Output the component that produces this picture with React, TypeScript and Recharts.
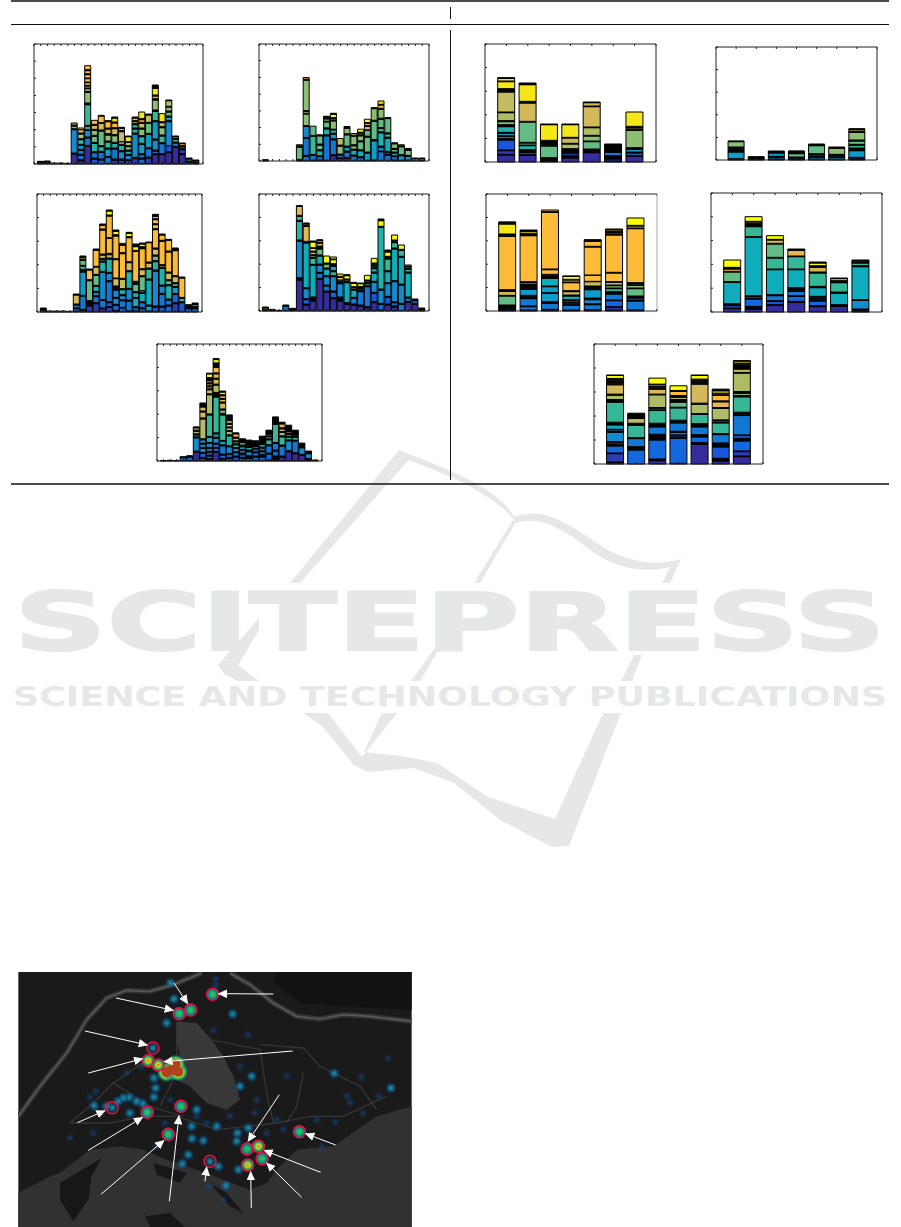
import { Bar, BarChart, Cell, Scatter, ScatterChart, XAxis, YAxis } from 'recharts';

type Seg = [number, number]; // [topic level, amount]
type Stack = Seg[];

// topic levels run along the colour map, K lumps the thin topics that print as black
const K = 20;
const parula = [
  '#352c9e', '#2f3db5', '#1a56da', '#1268dc', '#1278d4', '#128bd0', '#0e9cc9', '#0fadbb', '#1fb3ab', '#38b797',
  '#64bc85', '#8cbe74', '#aebc65', '#c3bb5f', '#d4b95a', '#e6b750', '#fdbb3a', '#f7d81f', '#f5e617', '#fbff00', '#000000',
];

const weekdayA: Stack[] = [
  [[0,5],[K,3]], [[0,6],[K,3]], [[17,3]], [[17,3]], [[17,2]],
  [[0,30],[K,3],[5,70],[K,3],[10,8],[K,3],[13,6]],
  [[0,10],[K,3],[4,13],[K,3],[4,12],[K,3],[6,12],[K,3],[9,14],[K,3],[12,14],[K,3],[15,10],[17,5]],
  [[0,53],[K,3],[4,22],[K,3],[5,20],[K,2],[8,10],[K,3],[9,62],[K,5],[11,32],[K,3],[12,8],[K,2],[13,6],[K,2],[15,8],[K,2],[16,10],[K,2],[16,10],[K,3],[16,9],[K,3],[16,12]],
  [[2,15],[K,3],[4,16],[K,3],[8,25],[K,3],[10,18],[K,3],[11,15],[K,3],[14,12],[K,3],[16,12]],
  [[3,12],[K,3],[4,20],[K,3],[8,14],[K,3],[10,44],[K,3],[14,20],[K,2],[16,20],[17,2]],
  [[4,20],[K,3],[6,22],[K,3],[9,18],[K,3],[11,18],[K,4],[13,14],[K,3],[16,19],[K,3]],
  [[1,12],[K,3],[4,30],[K,3],[8,14],[K,3],[11,20],[K,3],[14,18],[K,3],[16,14],[K,3],[17,12],[K,3]],
  [[1,12],[K,3],[5,22],[K,3],[8,16],[K,3],[11,8],[13,30],[K,3],[14,7],[K,3]],
  [[2,10],[K,3],[5,13],[K,3],[8,10],[K,3],[11,10],[K,3],[13,10],[K,2],[18,15],[K,2]],
  [[1,16],[K,4],[5,70],[K,3],[8,12],[K,3],[9,10],[K,3],[14,6],[K,3],[16,8],[K,3]],
  [[3,15],[K,3],[4,10],[K,3],[6,28],[K,3],[8,20],[K,3],[11,20],[K,3],[13,14],[K,3],[16,8],[K,3],[18,20]],
  [[1,18],[K,3],[4,25],[K,3],[6,40],[K,3],[10,30],[K,3],[13,22],[K,3]],
  [[0,28],[K,3],[4,8],[K,3],[5,30],[K,3],[6,52],[K,3],[9,28],[K,4],[11,30],[K,4],[16,8],[K,3],[18,20],[K,10]],
  [[0,28],[K,3],[4,30],[K,3],[9,20],[K,3],[11,22],[K,3],[13,12],[K,3],[18,24]],
  [[0,34],[K,3],[2,18],[5,72],[K,4],[8,10],[K,3],[10,12],[K,3],[11,12],[K,2],[12,17],[K,2]],
  [[0,50],[K,3],[4,10],[K,3],[8,8],[K,3],[9,5],[K,2]],
  [[0,28],[K,3],[1,12],[K,3],[3,6],[K,3],[16,6],[K,2]],
  [[3,6],[K,3],[9,6],[K,3]],
  [[3,4],[K,2],[9,4],[K,2]],
];

const weekdayB: Stack[] = [
  [[K,2],[17,2]], [], [], [], [],
  [[K,5],[10,37],[K,4],[17,3]],
  [[4,14],[K,3],[4,52],[K,2],[5,33],[K,3],[11,35],[K,2],[11,6],[K,2],[11,92],[K,3],[16,5]],
  [[K,2],[4,16],[K,2],[9,55],[K,2],[10,28]],
  [[K,3],[4,10],[K,3],[8,15],[K,3],[10,14],[K,3],[10,25],[K,3]],
  [[K,2],[4,74],[K,3],[8,18],[K,3],[10,18],[K,2],[11,7],[K,2],[16,3],[K,3]],
  [[0,16],[K,3],[4,45],[K,3],[6,14],[K,3],[9,10],[K,2],[11,25],[K,3],[16,4],[K,3],[19,10],[K,3]],
  [[0,8],[K,2],[4,8],[K,3],[11,24],[K,3],[13,20]],
  [[0,8],[K,3],[4,16],[K,3],[6,12],[K,3],[10,34],[K,3],[11,17],[K,2],[16,3]],
  [[4,15],[K,3],[7,15],[K,3],[11,10],[K,3],[11,26],[K,3],[18,5]],
  [[4,10],[K,3],[7,18],[K,3],[10,24],[K,3],[11,15],[K,3],[13,5],[K,3],[19,9]],
  [[K,2],[6,22],[K,3],[10,45],[K,3],[10,17],[K,2],[14,10],[K,3],[16,6],[K,3],[19,10]],
  [[K,3],[6,58],[K,4],[10,55],[K,3],[11,35],[K,3]],
  [[4,28],[K,2],[5,12],[K,3],[8,40],[K,3],[9,10],[K,3],[10,25],[K,3],[11,27],[K,3],[16,10],[K,2],[17,10]],
  [[4,18],[K,3],[6,5],[K,3],[7,40],[K,3],[9,10],[K,3],[10,43],[K,3]],
  [[K,3],[4,10],[K,3],[7,8],[K,3],[10,8],[K,3],[11,14],[K,3]],
  [[K,2],[6,14],[K,3],[10,24],[K,3],[17,3]],
  [[K,3],[6,11],[K,3],[11,15],[K,3],[16,3]],
  [[10,7],[K,2]],
  [[K,2],[10,5],[K,2]],
];

const weekdayC: Stack[] = [
  [[2,6],[K,6]], [[17,3]], [[17,3]], [[17,3]], [[17,2]],
  [[K,2],[3,8],[K,3],[5,8],[K,3],[14,27],[K,3]],
  [[3,5],[K,3],[4,40],[K,2],[6,70],[K,8],[9,10],[K,2],[10,15],[K,3],[14,5],[K,5]],
  [[1,18],[K,16],[10,60],[K,3],[16,29],[K,3]],
  [[1,25],[K,3],[4,18],[K,3],[5,10],[K,3],[8,15],[K,3],[10,30],[K,3],[14,22],[K,2],[16,48],[K,4]],
  [[0,10],[K,2],[4,23],[K,2],[5,82],[K,3],[8,28],[K,3],[9,5],[K,3],[14,10],[K,3],[16,72],[K,3],[16,11],[K,4]],
  [[1,14],[K,2],[2,12],[K,3],[4,60],[K,3],[5,22],[K,3],[8,40],[K,3],[13,10],[K,4],[16,45],[K,2],[16,65],[K,3],[19,12],[K,3]],
  [[K,5],[3,15],[K,3],[5,18],[K,3],[5,22],[K,12],[14,22],[K,2],[16,55],[K,3],[16,68],[K,4],[19,10],[K,4]],
  [[3,12],[K,2],[4,20],[K,3],[5,12],[K,4],[8,14],[K,3],[13,28],[K,3],[16,74],[K,3],[16,22],[K,3],[16,3]],
  [[K,3],[4,30],[K,3],[5,32],[K,3],[8,50],[K,3],[14,24],[K,3],[16,72],[K,3],[19,10],[K,3]],
  [[K,3],[3,10],[K,3],[7,25],[K,3],[8,14],[K,3],[10,22],[K,3],[14,3],[K,3],[16,90],[K,3],[19,11],[K,8]],
  [[2,10],[K,3],[4,15],[K,3],[7,25],[K,3],[9,5],[10,42],[K,3],[14,18],[K,3],[16,60],[K,6],[19,8],[K,3]],
  [[K,3],[6,15],[K,3],[7,75],[K,3],[9,30],[K,3],[14,15],[K,3],[16,58],[K,2]],
  [[2,15],[K,3],[5,105],[K,3],[8,25],[K,3],[10,14],[K,3],[14,18],[K,3],[16,55],[K,3],[16,12],[K,3],[16,12],[K,3],[16,7],[K,6]],
  [[2,15],[K,3],[4,35],[K,3],[5,22],[K,3],[8,50],[K,3],[13,5],[K,3],[16,70],[K,3],[16,16],[K,3]],
  [[3,18],[K,3],[4,15],[K,3],[8,40],[K,3],[10,12],[K,3],[14,20],[K,3],[16,60],[K,3],[16,32],[K,3]],
  [[1,25],[K,3],[3,25],[K,3],[6,18],[K,3],[10,8],[K,3],[14,18],[K,3],[16,75],[K,8]],
  [[2,28],[K,3],[8,10],[K,3],[16,58],[K,3]],
  [[3,10],[K,10],[17,2]],
  [[3,10],[K,6],[10,6],[K,5]],
];

const weekdayD: Stack[] = [
  [[K,4],[19,5],[K,3]], [[K,3],[13,2]], [[17,2]], [[3,15],[K,3]], [[K,6],[17,2]],
  [[0,93],[K,7],[5,110],[K,3],[8,56],[K,3],[9,12],[K,3],[15,27],[K,2]],
  [[0,18],[K,3],[3,13],[K,3],[5,30],[K,3],[7,134],[K,5],[15,45],[K,3],[16,4],[K,3]],
  [[0,30],[K,2],[1,3],[K,2],[2,3],[K,2],[7,95],[K,3],[9,18],[K,3],[11,5],[K,3],[15,8],[K,3],[19,8],[K,2],[19,17],[K,3]],
  [[0,95],[K,3],[4,15],[K,3],[5,22],[K,3],[7,24],[K,3],[10,18],[K,3],[K,6],[16,8],[K,3],[19,5],[K,3]],
  [[0,57],[K,3],[4,15],[K,3],[5,25],[K,3],[7,20],[K,3],[10,12],[K,3],[19,21]],
  [[0,37],[K,3],[3,17],[K,3],[5,43],[K,3],[9,12],[K,3],[7,13],[K,8],[19,12],[K,2],[19,6]],
  [[0,30],[K,12],[5,40],[K,3],[K,3],[7,5],[16,8],[K,3],[19,7]],
  [[K,2],[0,18],[K,5],[7,60],[K,3],[12,5],[K,3],[19,10],[K,3]],
  [[0,18],[K,3],[4,17],[K,3],[7,22],[K,3],[15,4],[K,3],[19,10],[K,3]],
  [[0,15],[K,3],[4,40],[K,3],[9,5],[K,3],[15,2],[K,3],[19,8],[K,2]],
  [[0,10],[K,3],[4,60],[K,3],[7,6],[K,3],[9,5],[K,3],[19,14]],
  [[0,25],[K,3],[2,25],[K,3],[5,30],[K,3],[7,25],[K,3],[8,10],[K,3],[9,5],[K,3],[16,3],[K,3],[19,14]],
  [[K,3],[3,17],[K,3],[5,40],[K,3],[8,185],[K,3],[19,17],[K,5]],
  [[0,18],[K,3],[2,20],[K,3],[5,38],[K,3],[7,33],[K,3],[9,35],[K,8],[19,13],[K,6]],
  [[0,12],[K,3],[3,10],[K,3],[5,60],[K,3],[7,95],[K,3],[9,16],[K,3],[15,3],[K,2],[19,15]],
  [[4,20],[K,3],[5,55],[K,3],[7,80],[K,3],[9,18],[K,3],[19,13]],
  [[0,26],[K,3],[4,10],[K,3],[7,72],[K,3],[9,8],[K,3],[16,4],[K,3],[17,3]],
  [[0,20],[K,3],[4,8],[K,5]],
  [[K,7],[17,2]],
];

const weekdayE: Stack[] = [
  [[K,1]], [[17,2]], [[K,1]],
  [[3,10],[K,3]],
  [[3,12],[K,4]],
  [[0,27],[K,3],[5,40],[K,3],[8,6],[K,3],[12,8],[K,3],[14,7],[K,3]],
  [[1,8],[K,3],[3,12],[K,3],[5,12],[K,3],[5,10],[K,3],[6,10],[K,3],[12,60],[K,3],[14,18],[K,3],[15,12],[K,3],[K,9]],
  [[1,4],[K,3],[3,8],[K,3],[3,8],[K,3],[4,9],[K,3],[5,12],[K,3],[7,15],[K,3],[9,65],[K,3],[12,58],[K,3],[14,12],[K,3],[15,6],[K,3],[15,6],[K,3],[16,6],[K,10],[19,11],[K,2]],
  [[0,26],[K,3],[3,10],[K,2],[4,10],[K,3],[5,15],[K,3],[7,10],[K,3],[9,108],[K,14],[12,22],[K,3],[14,15],[K,3],[15,13],[K,3],[16,16],[K,14],[19,10],[K,3]],
  [[1,5],[K,3],[3,10],[K,3],[4,25],[K,3],[7,10],[K,3],[9,77],[K,5],[11,10],[K,3],[14,18],[K,3],[16,8],[K,3],[16,8],[K,3],[19,8],[K,3]],
  [[1,8],[K,2],[2,10],[K,3],[5,20],[K,3],[8,30],[K,3],[11,10],[K,3],[14,8],[K,3],[15,8],[K,3],[14,8],[K,3],[K,14]],
  [[2,12],[K,3],[4,10],[K,3],[5,10],[K,3],[9,8],[K,3],[11,6],[K,3],[14,8],[K,3],[16,10],[K,3]],
  [[2,8],[K,3],[3,8],[K,5],[4,8],[K,3],[6,8],[K,5],[8,8],[K,11]],
  [[3,8],[K,8],[5,12],[K,5],[8,8],[K,6],[12,3],[K,13]],
  [[3,12],[K,3],[4,10],[K,3],[4,8],[K,3],[10,5],[K,17]],
  [[3,12],[K,8],[5,8],[K,3],[5,8],[K,3],[8,8],[K,25]],
  [[K,3],[3,18],[K,3],[4,22],[K,3],[9,15],[K,3],[13,6],[K,3],[17,5],[K,12]],
  [[K,15],[3,15],[K,3],[4,20],[K,3],[9,55],[K,4],[K,18]],
  [[0,12],[K,3],[4,30],[K,3],[9,25],[K,3],[12,10],[K,3],[13,8],[K,3],[14,12],[K,5]],
  [[0,28],[K,3],[5,30],[K,3],[9,8],[K,3],[10,5],[K,3],[14,5],[K,20]],
  [[0,22],[K,3],[4,35],[K,3],[9,8],[K,3],[9,4],[K,15]],
  [[0,17],[K,3],[5,20],[K,14]],
  [[K,8],[5,14],[K,8]],
  [[17,3]],
];

const dayF: Stack[] = [
  [[0,21],[K,2],[1,11],[K,2],[2,30],[K,5],[6,6],[K,2],[6,7],[K,3],[8,17],[K,6],[11,9],[K,3],[12,24],[K,2],[13,60],[K,10],[18,21],[K,2],[18,8],[K,2]],
  [[0,20],[K,2],[1,7],[K,8],[8,12],[K,2],[10,6],[K,2],[10,61],[K,2],[14,55],[K,5],[18,50],[K,5]],
  [[K,8],[5,3],[K,2],[10,35],[K,2],[14,3],[K,12],[18,47],[K,2]],
  [[0,12],[K,2],[2,3],[K,2],[3,6],[K,4],[8,3],[K,8],[12,14],[K,2],[13,16],[K,2],[18,38],[K,2]],
  [[0,28],[K,11],[10,22],[K,2],[11,15],[K,2],[12,23],[K,2],[14,61],[K,2],[14,10],[K,2]],
  [[K,3],[1,6],[K,10],[4,10],[K,25]],
  [[0,17],[K,3],[4,7],[K,3],[6,8],[K,5],[11,52],[K,2],[14,5],[K,5],[18,43]],
];

const dayG: Stack[] = [
  [[K,4],[6,20],[K,9],[10,3],[K,3],[11,16],[K,1],[17,1]],
  [[K,10]],
  [[K,3],[6,5],[K,3],[6,10],[K,6]],
  [[K,3],[6,3],[K,3],[10,10],[K,7],[17,1]],
  [[K,2],[6,5],[K,3],[6,5],[K,4],[10,24],[K,5]],
  [[K,2],[6,5],[K,3],[10,4],[K,3],[11,18],[K,4]],
  [[K,3],[3,3],[K,2],[6,20],[K,8],[9,8],[K,3],[10,10],[K,3],[11,23],[K,3],[13,5],[K,3]],
];

const dayH: Stack[] = [
  [[K,6],[6,3],[K,9],[10,27],[K,2],[14,12],[K,5],[16,160],[K,2],[16,3],[K,2],[18,30],[K,2],[16,3],[K,1]],
  [[K,3],[4,10],[K,2],[4,22],[K,6],[6,3],[K,1],[6,18],[K,5],[7,3],[K,8],[14,5],[K,2],[16,138],[K,6],[18,6],[K,5]],
  [[K,5],[4,18],[K,5],[6,25],[K,2],[6,18],[K,2],[7,23],[K,7],[12,3],[K,2],[16,14],[K,2],[16,170],[K,2],[16,5]],
  [[K,3],[4,14],[K,2],[4,5],[K,3],[5,5],[K,2],[7,11],[K,3],[14,10],[K,3],[16,24],[K,2],[16,6],[K,2],[19,9],[K,1]],
  [[K,4],[4,15],[K,3],[5,12],[K,5],[6,25],[K,11],[13,13],[K,1],[16,18],[K,1],[16,84],[K,2],[16,15],[K,5]],
  [[K,3],[1,8],[K,2],[3,18],[K,2],[4,18],[K,7],[9,9],[K,2],[11,7],[K,2],[14,8],[K,2],[16,26],[K,2],[16,112],[K,2],[16,4],[K,6],[17,4],[K,2]],
  [[K,3],[4,27],[K,3],[4,6],[K,6],[10,22],[K,2],[11,8],[K,2],[14,4],[K,2],[16,162],[K,2],[16,6],[K,2],[19,22]],
];

const dayI: Stack[] = [
  [[0,10],[K,2],[2,7],[K,6],[7,64],[K,2],[10,29],[K,2],[16,7],[K,5],[19,22]],
  [[0,8],[K,2],[1,4],[K,3],[3,22],[K,2],[4,5],[K,3],[7,175],[K,2],[9,30],[K,10],[15,4],[K,2],[19,14]],
  [[0,20],[K,2],[2,10],[K,2],[4,15],[K,3],[7,75],[K,2],[9,33],[K,2],[10,40],[K,2],[14,10],[K,2],[19,11]],
  [[0,29],[K,3],[3,15],[K,2],[4,13],[K,2],[4,2],[K,2],[5,3],[K,2],[7,54],[K,2],[9,37],[K,2],[15,17],[K,4]],
  [[0,16],[K,3],[3,14],[K,2],[4,4],[K,2],[4,4],[K,2],[7,26],[K,4],[9,40],[K,3],[14,14],[K,5],[19,8],[K,3]],
  [[0,17],[K,5],[7,34],[K,4],[9,28],[K,6],[19,6],[K,2]],
  [[K,9],[5,26],[K,2],[7,99],[K,3],[9,8],[K,3],[16,3],[K,3]],
];

const dayJ: Stack[] = [
  [[0,4],[K,2],[1,25],[K,2],[3,21],[K,6],[4,5],[K,2],[5,28],[K,2],[5,5],[K,2],[7,13],[K,8],[9,60],[K,8],[12,13],[K,3],[14,28],[K,2],[15,3],[K,2],[15,3],[K,2],[15,3],[K,4],[19,9],[K,1]],
  [[3,42],[K,10],[4,24],[K,3],[9,37],[K,6],[13,14],[K,16]],
  [[0,10],[K,5],[3,57],[K,7],[3,3],[K,7],[4,22],[K,11],[9,38],[K,2],[9,5],[K,2],[12,38],[K,2],[14,15],[K,2],[15,4],[K,2],[15,5],[K,2],[19,18]],
  [[K,2],[3,75],[K,2],[3,5],[K,3],[4,8],[K,3],[4,25],[K,8],[9,37],[K,2],[10,15],[K,8],[13,6],[K,6],[16,12],[K,3],[19,14]],
  [[0,59],[K,5],[3,17],[K,7],[4,23],[K,10],[9,28],[K,2],[12,28],[K,3],[14,57],[K,3],[15,3],[K,3],[15,3],[K,3],[19,11],[K,1]],
  [[0,9],[K,8],[2,34],[K,2],[3,3],[K,2],[3,3],[K,2],[4,25],[K,3],[9,32],[K,3],[10,4],[K,2],[12,34],[K,3],[15,17],[K,3],[16,16],[K,2],[16,3],[K,2],[18,7],[K,5]],
  [[0,22],[K,2],[1,13],[K,2],[3,30],[K,8],[3,8],[K,2],[4,58],[K,4],[8,3],[K,3],[9,46],[K,4],[11,6],[K,6],[12,55],[K,2],[13,10],[K,13],[15,3],[K,2],[19,6],[K,1]],
];

// map spots, in the map's own coordinates
const hotSpots = [[415,303],[445,316],[745,560],[713,616]];
const blobSpots = [[470,338],[482,332],[495,331],[505,336],[497,314]];
const greenSpots = [[608,104],[542,151],[508,162],[412,458],[513,440],[475,524],[711,568],[756,597],[868,516]];
const tealSpots = [
  [429,265],[307,444],[600,605],[482,70],[492,118],[470,190],[668,163],[432,355],[437,385],[432,412],[398,432],[380,425],
  [358,413],[340,415],[325,425],[290,440],[253,438],[360,460],[546,537],[580,543],[620,500],[682,520],[680,545],[715,505],
  [560,450],[535,585],[517,612],[648,678],[685,630],[972,341],[1142,385],[690,380],[725,350],[545,500],[625,620],
];
const blueSpots = [
  [617,58],[617,78],[610,213],[715,225],[520,120],[350,338],[395,320],[258,395],[240,412],[740,420],[735,460],[800,480],
  [830,350],[690,320],[1133,295],[1053,352],[1010,410],[1020,430],[1058,460],[975,487],[1105,410],[920,480],[935,560],
  [180,535],[250,520],[600,680],[640,720],[590,490],[560,470],[480,420],[465,490],[440,560],[770,520],[820,510],[660,470],
];
const ringSpots = [
  [608,104],[542,151],[508,162],[429,265],[415,303],[445,316],[307,444],[412,458],[513,440],[475,524],[600,605],[711,568],
  [745,560],[756,597],[713,616],[868,516],
];
const arrows = [
  [492,70,533,132],[790,103,625,102],[318,115,490,152],[225,214,412,256],[235,340,398,297],[848,274,462,306],
  [202,489,285,453],[235,572,398,473],[273,704,462,542],[478,725,507,468],[585,665,590,622],[808,405,714,545],
  [977,556,887,522],[932,638,762,572],[875,713,770,610],[724,745,722,636],
];

const panels = [
  { stacks: weekdayA, left: 34, top: 44, width: 169, height: 120, yMax: 360, yDivs: 7, slots: 25, barSize: 6 },
  { stacks: weekdayB, left: 259, top: 44, width: 170, height: 117, yMax: 353, yDivs: 7, slots: 25, barSize: 6 },
  { stacks: weekdayC, left: 37, top: 194, width: 165, height: 118, yMax: 354, yDivs: 5, slots: 25, barSize: 6 },
  { stacks: weekdayD, left: 259, top: 194, width: 170, height: 117, yMax: 351, yDivs: 5, slots: 25, barSize: 6 },
  { stacks: weekdayE, left: 157, top: 344, width: 165, height: 117, yMax: 353, yDivs: 5, slots: 25, barSize: 6 },
  { stacks: dayF, left: 485, top: 44, width: 171, height: 118, yMax: 354, yDivs: 5, slots: 8, barSize: 17 },
  { stacks: dayG, left: 716, top: 47, width: 161, height: 113, yMax: 339, yDivs: 5, slots: 8, barSize: 16 },
  { stacks: dayH, left: 486, top: 194, width: 171, height: 117, yMax: 351, yDivs: 5, slots: 8, barSize: 17, rightColor: '#aaaaaa' },
  { stacks: dayI, left: 711, top: 193, width: 171, height: 119, yMax: 357, yDivs: 5, slots: 8, barSize: 17 },
  { stacks: dayJ, left: 594, top: 344, width: 169, height: 120, yMax: 359, yDivs: 5, slots: 8, barSize: 17 },
];

const PAD = 3;
const axisColor = '#222222';
const noLabel = () => <g />; // the paper's charts have tick marks but no printed numbers

function StackChart({ stacks, left, top, width, height, yMax, yDivs, slots, barSize, rightColor }: (typeof panels)[number] & { rightColor?: string }) {
  const depth = Math.max(...stacks.map((s) => s.length));
  const rows = stacks.map((stack, i) => {
    const row: Record<string, number> = { slot: i + 1 };
    stack.forEach((seg, d) => {
      row[`s${d}`] = seg[1];
    });
    return row;
  });
  const xTicks = Array.from({ length: slots + 1 }, (_, i) => i);
  const yTicks = Array.from({ length: yDivs + 1 }, (_, i) => (i * yMax) / yDivs);
  const line = { stroke: axisColor, strokeWidth: 1 };
  const tickLine = { stroke: '#222222', strokeWidth: 1 };
  return (
    <div style={{ position: 'absolute', left: left - PAD, top: top - PAD }}>
      <BarChart
        width={width + PAD * 2}
        height={height + PAD * 2}
        data={rows}
        barSize={barSize}
        margin={{ top: PAD, right: PAD, bottom: PAD, left: PAD }}
      >
        <XAxis xAxisId="t" orientation="top" dataKey="slot" type="number" domain={[0, slots]} ticks={xTicks} interval={0} height={1} mirror tick={noLabel} tickSize={2} axisLine={line} tickLine={tickLine} />
        <YAxis yAxisId="r" orientation="right" type="number" domain={[0, yMax]} ticks={yTicks} interval={0} width={1} mirror tick={noLabel} tickSize={2} axisLine={{ ...line, stroke: rightColor ?? axisColor }} tickLine={tickLine} />
        {Array.from({ length: depth }, (_, d) => (
          <Bar
            key={d}
            xAxisId="b"
            yAxisId="l"
            dataKey={`s${d}`}
            stackId="topics"
            stroke="#000000"
            strokeWidth={1}
            isAnimationActive={false}
          >
            {stacks.map((stack, r) => (
              <Cell key={r} fill={parula[stack[d] ? stack[d][0] : 0]} />
            ))}
          </Bar>
        ))}
        <XAxis xAxisId="b" dataKey="slot" type="number" domain={[0, slots]} ticks={xTicks} interval={0} height={1} mirror tick={noLabel} tickSize={2} axisLine={line} tickLine={tickLine} />
        <YAxis yAxisId="l" type="number" domain={[0, yMax]} ticks={yTicks} interval={0} width={1} mirror tick={noLabel} tickSize={2} axisLine={line} tickLine={tickLine} />
      </BarChart>
    </div>
  );
}

const toPoints = (list: number[][]) => list.map(([x, y]) => ({ x, y }));

const spotShape = (r: number, fill: string) => (p: any) => <circle cx={p.cx} cy={p.cy} r={r} fill={fill} />;

function HeatMap() {
  return (
    <div style={{ position: 'absolute', left: 18, top: 972, width: 394, height: 255 }}>
      <svg width={394} height={255} viewBox="25 37 1180 765" style={{ position: 'absolute', left: 0, top: 0 }}>
        <rect x={25} y={37} width={1180} height={765} fill="#1a1a1a" />
        <path d="M25,700 L120,650 L150,640 L240,570 L330,560 L400,570 L470,600 L560,630 L640,660 L720,690 L770,670 L800,630 L860,570 L970,560 L1100,470 L1205,440 L1205,802 L25,802 Z" fill="#313131" />
        <path d="M150,670 L275,595 L245,650 L235,720 L190,785 L150,720 Z M430,610 L530,640 L510,670 L440,645 Z M405,770 L480,760 L525,802 L420,802 Z M600,670 L650,700 L700,760 L660,740 Z" fill="#171717" />
        <path d="M800,37 L1205,37 L1205,150 L1000,140 L870,130 L790,70 Z" fill="#121212" />
        <path d="M25,470 L90,380 L170,280 L230,180 L290,115 L350,92 L420,95 L490,75 L575,40" fill="none" stroke="#333333" strokeWidth={16} />
        <path d="M660,40 L720,75 L790,130 L860,170 L930,178 L1000,165 L1080,170 L1205,185" fill="none" stroke="#333333" strokeWidth={16} />
        <path d="M25,470 L90,380 L170,280 L230,180 L290,115 L350,92 L420,95 L490,75 L575,40 M660,40 L720,75 L790,130 L860,170 L930,178 L1000,165 L1080,170 L1205,185" fill="none" stroke="#585858" strokeWidth={5} />
        <path d="M500,185 L560,190 L605,240 L640,290 L670,350 L690,420 L650,450 L590,430 L540,380 L500,360 L510,290 L500,240 Z" fill="#383838" />
        <path d="M180,490 L250,430 L310,370 L400,310 L490,300 M180,490 L300,490 L400,470 L500,470 L620,510 L800,490 L900,470 L1000,470 L1130,410 M750,255 L880,265 L930,320 L1050,380 L1100,450 M500,190 L500,340 L470,400 L450,440 M310,370 L420,440 L520,470 M880,340 L860,440 L830,490 M600,240 L750,270 L770,400 L790,490" fill="none" stroke="#363636" strokeWidth={4} />
      </svg>
      <div style={{ position: 'absolute', left: 0, top: 0 }}>
        <ScatterChart width={394} height={255} margin={{ top: 0, right: 0, bottom: 0, left: 0 }}>
          <defs>
            <radialGradient id="spotBlue">
              <stop offset="0%" stopColor="#12508f" stopOpacity={0.65} />
              <stop offset="100%" stopColor="#0b3a78" stopOpacity={0} />
            </radialGradient>
            <radialGradient id="spotTeal">
              <stop offset="0%" stopColor="#1a9d98" />
              <stop offset="50%" stopColor="#0f6aa0" stopOpacity={0.7} />
              <stop offset="100%" stopColor="#0b3a78" stopOpacity={0} />
            </radialGradient>
            <radialGradient id="spotGreen">
              <stop offset="0%" stopColor="#3cc83a" />
              <stop offset="45%" stopColor="#14ab78" />
              <stop offset="75%" stopColor="#0f6fa8" stopOpacity={0.8} />
              <stop offset="100%" stopColor="#0b3a78" stopOpacity={0} />
            </radialGradient>
            <radialGradient id="spotHot">
              <stop offset="0%" stopColor="#e0491c" />
              <stop offset="25%" stopColor="#e8d81c" />
              <stop offset="55%" stopColor="#30bd50" />
              <stop offset="80%" stopColor="#1178a8" stopOpacity={0.8} />
              <stop offset="100%" stopColor="#0b3a78" stopOpacity={0} />
            </radialGradient>
            <radialGradient id="blobHalo">
              <stop offset="45%" stopColor="#e8d81c" />
              <stop offset="70%" stopColor="#30bd50" />
              <stop offset="100%" stopColor="#0f70a8" stopOpacity={0} />
            </radialGradient>
          </defs>
          <XAxis dataKey="x" type="number" domain={[25, 1205]} hide />
          <YAxis dataKey="y" type="number" domain={[37, 802]} reversed hide />
          <Scatter data={toPoints(blueSpots)} shape={spotShape(5, 'url(#spotBlue)')} isAnimationActive={false} />
          <Scatter data={toPoints(tealSpots)} shape={spotShape(6, 'url(#spotTeal)')} isAnimationActive={false} />
          <Scatter data={toPoints(greenSpots)} shape={spotShape(7, 'url(#spotGreen)')} isAnimationActive={false} />
          <Scatter data={toPoints(blobSpots)} shape={spotShape(10, 'url(#blobHalo)')} isAnimationActive={false} />
          <Scatter data={toPoints(blobSpots)} shape={spotShape(5, '#b2421f')} isAnimationActive={false} />
          <Scatter data={toPoints(hotSpots)} shape={spotShape(7, 'url(#spotHot)')} isAnimationActive={false} />
          <Scatter
            data={toPoints(ringSpots)}
            shape={(p: any) => <circle cx={p.cx} cy={p.cy} r={6} fill="none" stroke="#f0103a" strokeWidth={1.5} />}
            isAnimationActive={false}
          />
        </ScatterChart>
      </div>
      <svg width={394} height={255} viewBox="25 37 1180 765" style={{ position: 'absolute', left: 0, top: 0 }}>
        <defs>
          <marker id="head" markerUnits="userSpaceOnUse" markerWidth={30} markerHeight={26} refX={26} refY={13} orient="auto">
            <path d="M0,0 L28,13 L0,26 Z" fill="#ffffff" />
          </marker>
        </defs>
        {arrows.map(([x1, y1, x2, y2], i) => (
          <line key={i} x1={x1} y1={y1} x2={x2} y2={y2} stroke="#ffffff" strokeWidth={3} markerEnd="url(#head)" />
        ))}
      </svg>
    </div>
  );
}

function Watermark() {
  const ink = '#e6e8e8';
  return (
    <svg width={901} height={1227} style={{ position: 'absolute', left: 0, top: 0 }}>
      <g fill={ink}>
        <path d="M399,450 L411,457 L300,583 L290,583 Z" />
        <path d="M399,450 C450,470 505,490 516,522 C495,495 450,475 408,460 Z" />
        <path d="M514,517 C545,505 570,525 600,545 C630,565 660,565 681,559 L670,583 L662,583 L670,567 C640,575 610,565 590,550 C565,530 540,515 516,523 Z" />
        <path d="M513,520 L516,522 L480,583 L474,583 Z" />
        <path d="M259,618 L218,665 L225,675 L238,681 L259,681 L238,665 L259,630 Z" />
        <path d="M445,634 L448,634 L420,681 L411,681 Z" />
        <path d="M634,655 L642,655 L632,681 L621,681 Z" />
        <path d="M603,713 L621,713 L569,846 L552,847 L500,820 L454,783 L414,768 L368,772 L353,765 L350,760 L322,726 L303,713 L328,713 L362,757 L397,713 L382,713 L364,752 L402,756 L437,763 L488,797 L555,819 Z" />
      </g>
      <text x={14} y={650} fontFamily="DejaVu Sans" fontWeight="bold" fontSize={80} fill={ink} stroke={ink} strokeWidth={2} textLength={872} lengthAdjust="spacingAndGlyphs">SCITEPRESS</text>
      <text x={13} y={706} fontFamily="DejaVu Sans" fontWeight="bold" fontSize={27} fill={ink} textLength={874} lengthAdjust="spacingAndGlyphs">SCIENCE AND TECHNOLOGY PUBLICATIONS</text>
    </svg>
  );
}

function TableRules() {
  const rule = '#111111';
  return (
    <svg width={901} height={500} style={{ position: 'absolute', left: 0, top: 0 }}>
      <line x1={11} x2={889} y1={1} y2={1} stroke={rule} strokeWidth={1.5} />
      <line x1={11} x2={889} y1={24.5} y2={24.5} stroke={rule} strokeWidth={1} />
      <line x1={11} x2={889} y1={484} y2={484} stroke={rule} strokeWidth={1.5} />
      <line x1={450.5} x2={450.5} y1={7} y2={19} stroke={rule} strokeWidth={1} />
      <line x1={450.5} x2={450.5} y1={30} y2={480} stroke={rule} strokeWidth={1} />
    </svg>
  );
}

export default function App() {
  return (
    <div style={{ position: 'absolute', left: 0, top: 0, width: 901, height: 1227, background: '#ffffff', overflow: 'hidden' }}>
      <Watermark />
      <TableRules />
      {panels.map((panel, i) => (
        <StackChart key={i} {...panel} />
      ))}
      <HeatMap />
    </div>
  );
}
